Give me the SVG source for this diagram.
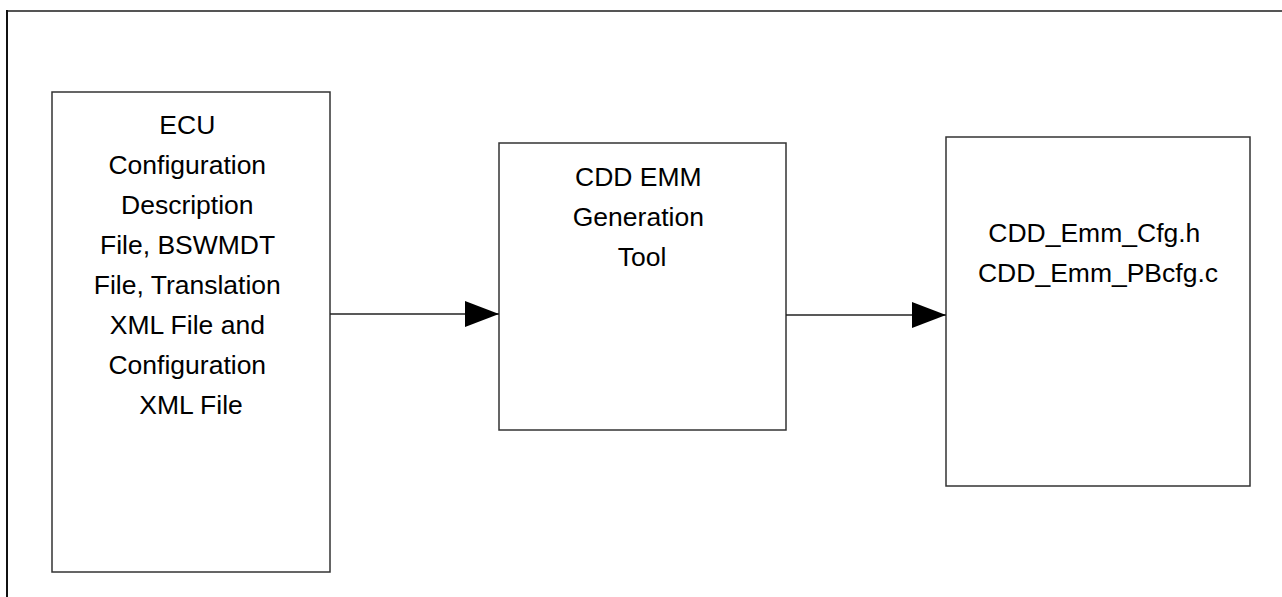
<svg xmlns="http://www.w3.org/2000/svg" width="1282" height="597" viewBox="0 0 1282 597">
  <style>
    .box { fill: #ffffff; stroke: #333333; stroke-width: 1.5; }
    .label { font-family: "Liberation Sans", Arial, sans-serif; font-size: 26.5px; fill: #000000; text-anchor: middle; }
    .edge { stroke: #222222; stroke-width: 1.3; fill: none; marker-end: url(#arrow); }
  </style>
  <defs>
    <marker id="arrow" markerUnits="userSpaceOnUse" markerWidth="34" markerHeight="26" refX="34" refY="13" orient="auto">
      <path d="M0,0 L34,13 L0,26 Z" fill="#000000"/>
    </marker>
  </defs>

  <rect width="1282" height="597" fill="#ffffff"/>

  <!-- frame: top and left edges -->
  <line x1="6" y1="11" x2="1282" y2="11" stroke="#555555" stroke-width="2"/>
  <line x1="7" y1="10" x2="7" y2="597" stroke="#111111" stroke-width="2"/>

  <g id="node-inputs">
    <rect class="box" x="52" y="92" width="278" height="480"/>
    <text class="label">
      <tspan x="191" y="134">ECU</tspan>
      <tspan x="191" y="174">Configuration</tspan>
      <tspan x="191" y="214">Description</tspan>
      <tspan x="191" y="254">File, BSWMDT</tspan>
      <tspan x="191" y="294">File, Translation</tspan>
      <tspan x="191" y="334">XML File and</tspan>
      <tspan x="191" y="374">Configuration</tspan>
      <tspan x="191" y="414">XML File</tspan>
    </text>
  </g>

  <g id="node-tool">
    <rect class="box" x="499" y="143" width="287" height="287"/>
    <text class="label">
      <tspan x="642" y="186">CDD EMM</tspan>
      <tspan x="642" y="226">Generation</tspan>
      <tspan x="642" y="266">Tool</tspan>
    </text>
  </g>

  <g id="node-outputs">
    <rect class="box" x="946" y="137" width="304" height="349"/>
    <text class="label">
      <tspan x="1098" y="242">CDD_Emm_Cfg.h</tspan>
      <tspan x="1098" y="282">CDD_Emm_PBcfg.c</tspan>
    </text>
  </g>

  <g id="connectors">
    <line class="edge" x1="330" y1="314" x2="499" y2="314"/>
    <line class="edge" x1="786" y1="315" x2="946" y2="315"/>
  </g>
</svg>
